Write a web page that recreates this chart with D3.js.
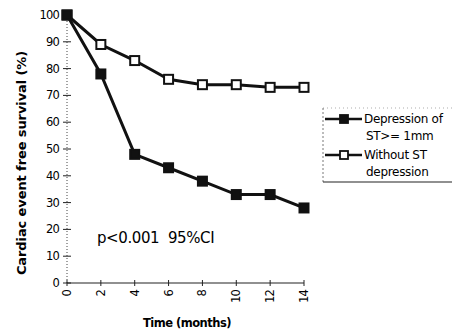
<!DOCTYPE html>
<html>
<head>
<meta charset="utf-8">
<script src="https://cdn.jsdelivr.net/npm/d3@7"></script>
<style>
  body { margin: 0; background: #fff; }
  svg { font-family: "DejaVu Sans", "Open Sans", sans-serif; }
</style>
</head>
<body>
<div id="app"></div>
<script>
// data
const months = [0, 2, 4, 6, 8, 10, 12, 14]
const withDepression = [100, 78, 48, 43, 38, 33, 33, 28]
const withoutDepression = [100, 89, 83, 76, 74, 74, 73, 73]
const yTicks = [0, 10, 20, 30, 40, 50, 60, 70, 80, 90, 100]

const width = 452, height = 330
const svg = d3.select('#app').append('svg')
  .attr('width', width).attr('height', height)

const x = d3.scaleLinear().domain([0, 14]).range([67, 304])
const y = d3.scaleLinear().domain([0, 100]).range([283, 15])

// y axis (dotted line, cross ticks)
svg.append('line')
  .attr('x1', x(0)).attr('x2', x(0))
  .attr('y1', y(0)).attr('y2', y(100))
  .attr('stroke', '#444').attr('stroke-width', 1)
  .attr('stroke-dasharray', '1,2')
svg.selectAll('.ytick').data(yTicks).enter().append('line')
  .attr('x1', x(0) - 4).attr('x2', x(0) + 4)
  .attr('y1', d => y(d)).attr('y2', d => y(d))
  .attr('stroke', '#222').attr('stroke-width', 1)
svg.selectAll('.ylab').data(yTicks).enter().append('text')
  .attr('x', x(0) - 8).attr('y', d => y(d))
  .attr('dy', '0.35em')
  .attr('text-anchor', 'end')
  .attr('font-size', 11.5)
  .attr('letter-spacing', '-0.8px')
  .text(d => d)

// x axis
svg.append('line')
  .attr('x1', x(0)).attr('x2', x(14))
  .attr('y1', y(0)).attr('y2', y(0))
  .attr('stroke', '#222').attr('stroke-width', 1.2)
svg.selectAll('.xtick').data(months).enter().append('line')
  .attr('x1', d => x(d)).attr('x2', d => x(d))
  .attr('y1', y(0) - 3).attr('y2', y(0) + 3)
  .attr('stroke', '#222')
svg.selectAll('.xlab').data(months).enter().append('text')
  .attr('transform', d => `translate(${x(d)},${y(0) + 7}) rotate(-90)`)
  .attr('dy', '0.35em')
  .attr('text-anchor', 'end')
  .attr('font-size', 11.5)
  .attr('letter-spacing', '-0.8px')
  .text(d => d)

// axis titles
svg.append('text')
  .attr('transform', 'translate(26,163) rotate(-90)')
  .attr('text-anchor', 'middle')
  .attr('font-size', 13).attr('font-weight', 'bold')
  .attr('letter-spacing', '-0.1px')
  .text('Cardiac event free survival (%)')
svg.append('text')
  .attr('x', 187).attr('y', 327)
  .attr('text-anchor', 'middle')
  .attr('font-size', 11.5).attr('font-weight', 'bold')
  .attr('letter-spacing', '-0.5px')
  .text('Time (months)')

// series
const line = d3.line().x(d => x(d[0])).y(d => y(d[1]))
const series = [
  { name: 'without', values: withoutDepression, fill: '#fff' },
  { name: 'with', values: withDepression, fill: '#111' }
]
series.forEach(s => {
  const pts = months.map((m, i) => [m, s.values[i]])
  svg.append('path').datum(pts)
    .attr('d', line)
    .attr('fill', 'none').attr('stroke', '#111').attr('stroke-width', 3)
  svg.selectAll('.m-' + s.name).data(pts).enter().append('rect')
    .attr('x', d => x(d[0]) - 4.5).attr('y', d => y(d[1]) - 4.5)
    .attr('width', 9).attr('height', 9)
    .attr('fill', s.fill).attr('stroke', '#111').attr('stroke-width', 2)
})

// annotation
svg.append('text')
  .attr('x', 97).attr('y', 243)
  .attr('font-size', 15)
  .attr('letter-spacing', '-0.4px')
  .style('white-space', 'pre')
  .text('p<0.001  95%CI')

// legend
const lg = svg.append('g').attr('transform', 'translate(323,108)')
lg.append('line').attr('x1', 0).attr('x2', 0).attr('y1', 0).attr('y2', 74)
  .attr('stroke', '#555').attr('stroke-width', 0.8).attr('stroke-dasharray', '2,2')
lg.append('line').attr('x1', 0).attr('x2', 129).attr('y1', 0).attr('y2', 0)
  .attr('stroke', '#777').attr('stroke-width', 0.6).attr('stroke-dasharray', '1,3')
lg.append('line').attr('x1', 0).attr('x2', 129).attr('y1', 74).attr('y2', 74)
  .attr('stroke', '#222').attr('stroke-width', 1.2)
const legendItems = [
  { lines: ['Depression of', 'ST>= 1mm'], fill: '#111', y: 11 },
  { lines: ['Without ST', 'depression'], fill: '#fff', y: 47 }
]
legendItems.forEach(it => {
  lg.append('line').attr('x1', 2).attr('x2', 39).attr('y1', it.y).attr('y2', it.y)
    .attr('stroke', '#111').attr('stroke-width', 2.5)
  lg.append('rect').attr('x', 17).attr('y', it.y - 4).attr('width', 8).attr('height', 8)
    .attr('fill', it.fill).attr('stroke', '#111').attr('stroke-width', 1.8)
  it.lines.forEach((t, i) => {
    lg.append('text')
      .attr('x', i === 0 ? 41 : 43).attr('y', it.y + i * 17)
      .attr('dy', '0.35em')
      .attr('font-size', 12)
      .attr('letter-spacing', '-0.3px')
      .text(t)
  })
})
</script>
</body>
</html>
